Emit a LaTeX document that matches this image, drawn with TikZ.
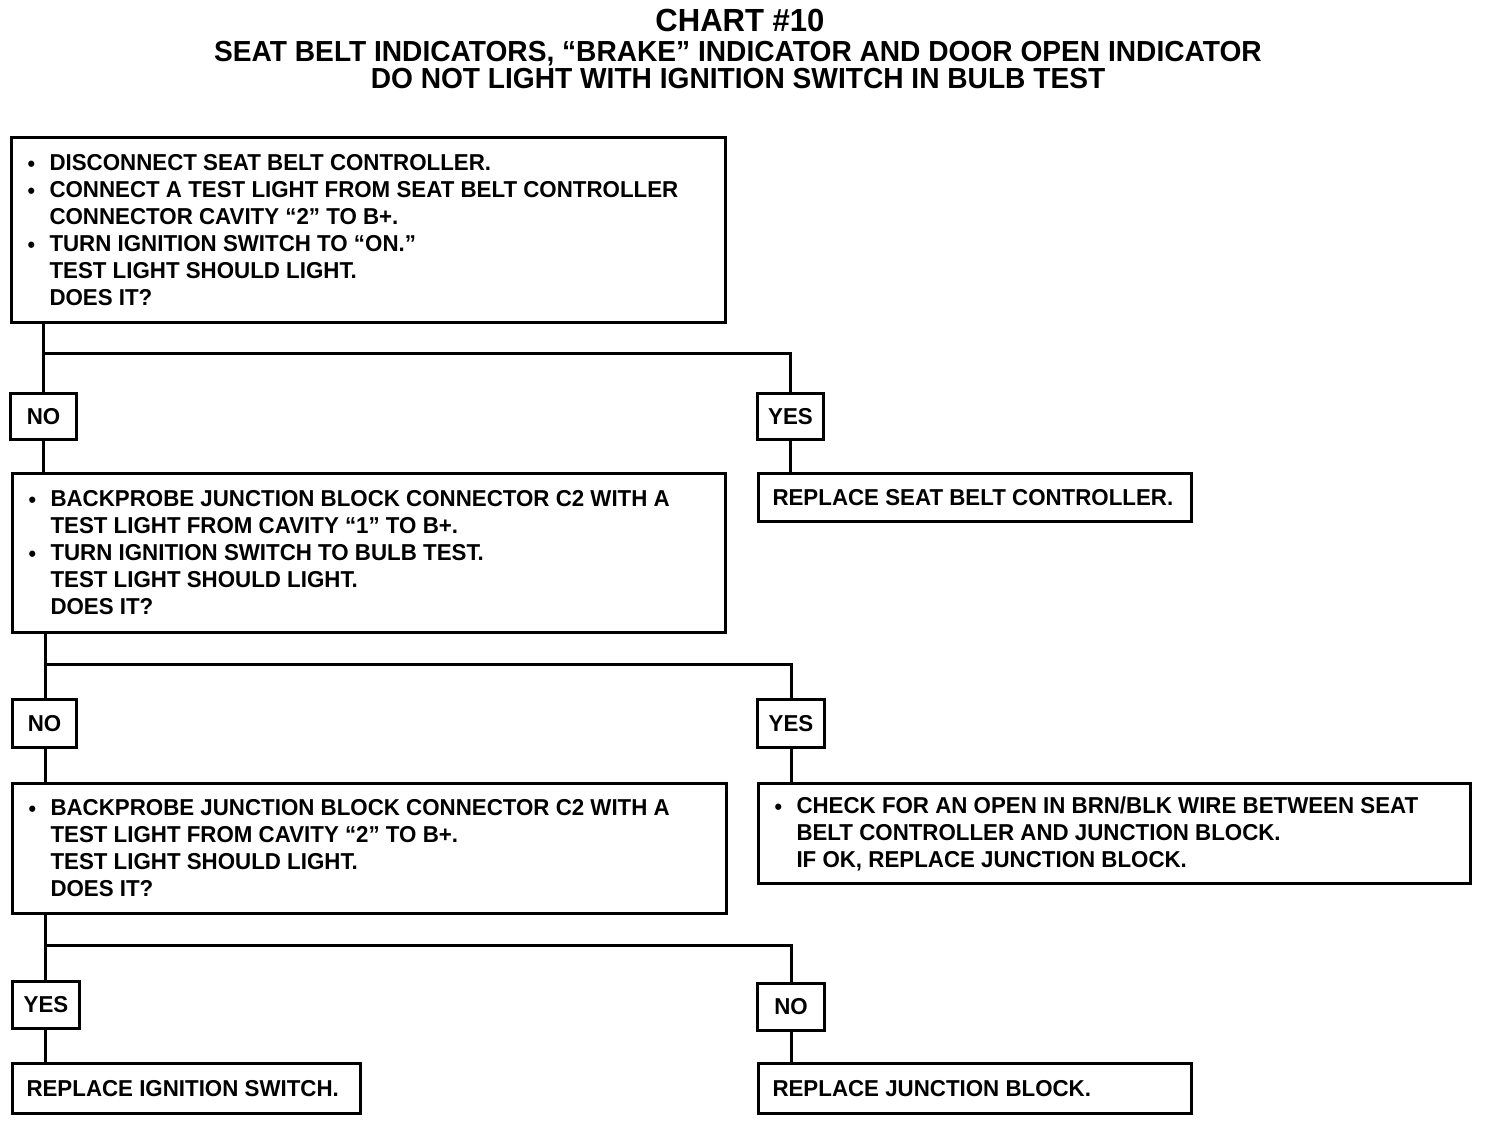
\documentclass[tikz,border=0pt]{standalone}
\usepackage{fontspec}
\setmainfont{Liberation Sans}[BoldFont={Liberation Sans Bold}]
\newfontfamily\chartfont{Liberation Sans Bold}[FakeStretch=0.97]
\begin{document}
\begin{tikzpicture}[x=1pt,y=-1pt,line width=3pt,
  every node/.style={font=\chartfont\fontsize{23}{27}\selectfont},
  textbox/.style={draw,anchor=north west,align=flush left,inner xsep=16pt,inner ysep=0pt},
  ansbox/.style={draw,anchor=north west,inner sep=0pt,minimum width=66pt,minimum height=46pt},
  simplebox/.style={draw,anchor=north west,inner xsep=14pt,inner ysep=0pt,minimum height=48pt,align=flush left}]
\newcommand{\bl}{\makebox[22pt][l]{\raisebox{-1pt}{\fontsize{22}{22}\selectfont •}}}
\newcommand{\ind}{\hspace*{22pt}}
\useasboundingbox (0,0) rectangle (1488,1120);
% title
\node[font=\chartfont\fontsize{32}{32}\selectfont,anchor=center] (t1) at (740,20) {CHART \#10};
\node[font=\chartfont\fontsize{29}{27}\selectfont,anchor=north,align=center] (t2) at (738,36)
  {SEAT BELT INDICATORS, “BRAKE” INDICATOR AND DOOR OPEN INDICATOR\\DO NOT LIGHT WITH IGNITION SWITCH IN BULB TEST};
% box 1
\node[textbox,minimum width=714pt,minimum height=185pt,text width=682pt] (b1) at (10,136)
 {\bl DISCONNECT SEAT BELT CONTROLLER.\\
  \bl CONNECT A TEST LIGHT FROM SEAT BELT CONTROLLER\\
  \ind CONNECTOR CAVITY “2” TO B+.\\
  \bl TURN IGNITION SWITCH TO “ON.”\\
  \ind TEST LIGHT SHOULD LIGHT.\\
  \ind DOES IT?};
\node[ansbox] (n1) at (9,392) {NO};
\node[ansbox] (y1) at (756,392) {YES};
\node[simplebox,minimum width=433pt,text width=405pt] (r1) at (757,472) {REPLACE SEAT BELT CONTROLLER.};
% box 2
\node[textbox,minimum width=713pt,minimum height=159pt,text width=681pt] (b2) at (11,472)
 {\bl BACKPROBE JUNCTION BLOCK CONNECTOR C2 WITH A\\
  \ind TEST LIGHT FROM CAVITY “1” TO B+.\\
  \bl TURN IGNITION SWITCH TO BULB TEST.\\
  \ind TEST LIGHT SHOULD LIGHT.\\
  \ind DOES IT?};
\node[ansbox,minimum width=64pt,minimum height=48pt] (n2) at (11,698) {NO};
\node[ansbox,minimum width=67pt,minimum height=48pt] (y2) at (756,698) {YES};
% box 3
\node[textbox,minimum width=714pt,minimum height=130pt,text width=682pt] (b3) at (11,782)
 {\bl BACKPROBE JUNCTION BLOCK CONNECTOR C2 WITH A\\
  \ind TEST LIGHT FROM CAVITY “2” TO B+.\\
  \ind TEST LIGHT SHOULD LIGHT.\\
  \ind DOES IT?};
\node[textbox,minimum width=712pt,minimum height=100pt,text width=680pt] (r2) at (757,782)
 {\bl CHECK FOR AN OPEN IN BRN/BLK WIRE BETWEEN SEAT\\
  \ind BELT CONTROLLER AND JUNCTION BLOCK.\\
  \ind IF OK, REPLACE JUNCTION BLOCK.};
\node[ansbox,minimum width=67pt,minimum height=47pt] (y3) at (11,980) {YES};
\node[ansbox,minimum width=67pt,minimum height=47pt] (n3) at (756,982) {NO};
\node[simplebox,minimum width=348pt,minimum height=50pt,text width=320pt] (r3) at (11,1062) {REPLACE IGNITION SWITCH.};
\node[simplebox,minimum width=433pt,minimum height=50pt,text width=405pt] (r4) at (757,1062) {REPLACE JUNCTION BLOCK.};
% connectors
\coordinate (j1) at (43,353);
\coordinate (j2) at (45,664);
\coordinate (j3) at (45,945);
\draw (b1.south -| j1) -- (n1.north -| j1);
\draw (j1) -| (y1.north);
\draw (n1.south -| j1) -- (b2.north -| j1);
\draw (y1.south) -- (y1.south |- r1.north);
\draw (b2.south -| j2) -- (n2.north -| j2);
\draw (j2) -| (y2.north);
\draw (n2.south -| j2) -- (b3.north -| j2);
\draw (y2.south) -- (y2.south |- r2.north);
\draw (b3.south -| j3) -- (y3.north -| j3);
\draw (j3) -| (n3.north);
\draw (y3.south -| j3) -- (r3.north -| j3);
\draw (n3.south) -- (n3.south |- r4.north);
\end{tikzpicture}
\end{document}
